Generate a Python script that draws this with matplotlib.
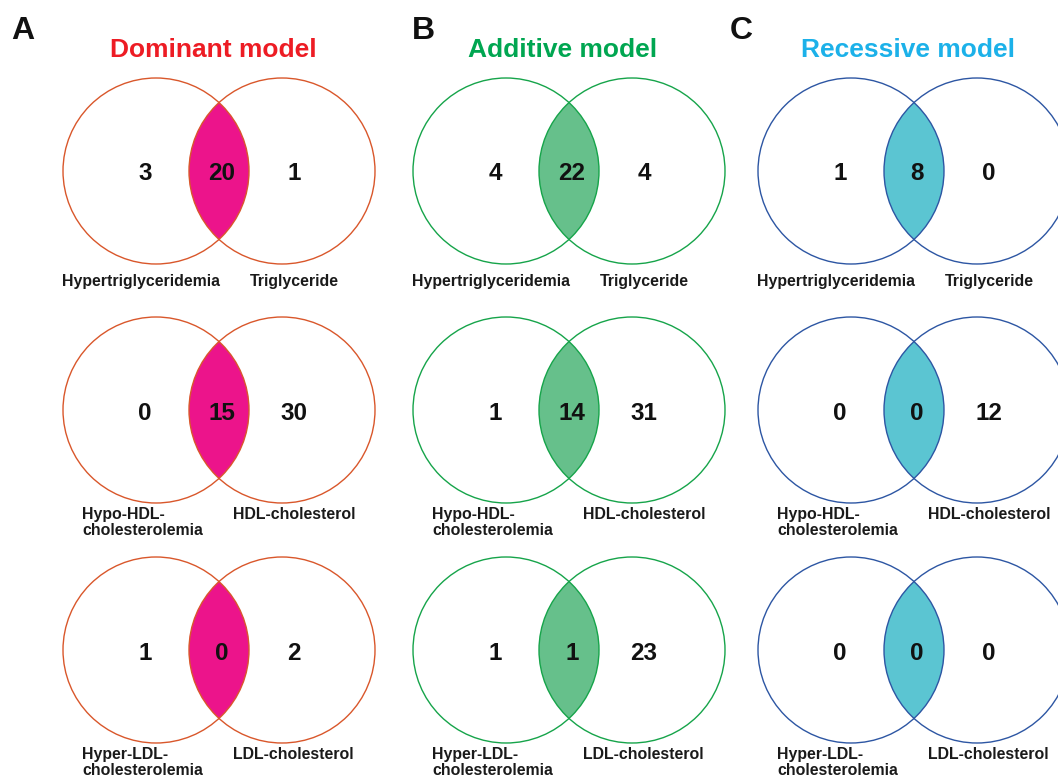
import matplotlib.pyplot as plt
from matplotlib.patches import Circle

plt.rcParams['font.family'] = ['Liberation Sans', 'DejaVu Sans']

# one column per genetic model, one row per trait pair
models = ['Dominant model', 'Additive model', 'Recessive model']
panel_letters = ['A', 'B', 'C']
title_colors = ['#ED1C24', '#00A651', '#1CB1E9']
edge_colors = ['#D9572B', '#16A44A', '#2D56A3']
lens_colors = ['#EC148B', '#66C08B', '#5BC5D2']

left_sets = ['Hypertriglyceridemia', 'Hypo-HDL-\ncholesterolemia', 'Hyper-LDL-\ncholesterolemia']
right_sets = ['Triglyceride', 'HDL-cholesterol', 'LDL-cholesterol']

left_only = [[3, 0, 1], [4, 1, 1], [1, 0, 0]]
shared = [[20, 15, 0], [22, 14, 1], [8, 0, 0]]
right_only = [[1, 30, 2], [4, 31, 23], [0, 12, 0]]

W, H = 1058, 782
fig = plt.figure(figsize=(W / 100, H / 100), dpi=100)
ax = fig.add_axes([0, 0, 1, 1])
ax.set_xlim(0, W)
ax.set_ylim(H, 0)
ax.set_aspect('equal')
ax.axis('off')

col_x = [156, 506, 851]
letter_x = [11, 412, 730]
row_y = [171, 410, 650]
r = 93
gap = 126

for c in range(3):
    cl = col_x[c]
    cr = cl + gap
    mid = (cl + cr) / 2
    ax.text(letter_x[c], 31, panel_letters[c], fontsize=23, fontweight='bold',
            ha='left', va='center', color='#111111')
    ax.text(mid - 6, 50, models[c], fontsize=19, fontweight='bold',
            ha='center', va='center', color=title_colors[c])
    for i in range(3):
        cy = row_y[i]
        left_c = Circle((cl, cy), r, fill=False, ec=edge_colors[c], lw=1.0, zorder=3)
        right_c = Circle((cr, cy), r, fill=False, ec=edge_colors[c], lw=1.0, zorder=3)
        ax.add_patch(left_c)
        ax.add_patch(right_c)
        # overlap region: right disc clipped by the left disc
        lens = Circle((cr, cy), r, fc=lens_colors[c], ec='none', zorder=2)
        ax.add_patch(lens)
        clip = Circle((cl, cy), r, transform=ax.transData)
        lens.set_clip_path(clip)

        num_kw = dict(fontsize=17.5, fontweight='bold', ha='center', va='center',
                      color='#111111', zorder=4)
        ax.text(cl - 11, cy + 3, str(left_only[c][i]), **num_kw)
        ax.text(mid + 3, cy + 3, str(shared[c][i]), **num_kw)
        ax.text(cr + 12, cy + 3, str(right_only[c][i]), **num_kw)

        lab_kw = dict(fontsize=11.4, fontweight='bold', va='top', ha='left',
                      color='#1a1a1a', linespacing=1.1)
        if i == 0:
            ax.text(cl - 94, cy + 103, left_sets[i], **lab_kw)
            ax.text(cr - 32, cy + 103, right_sets[i], **lab_kw)
        else:
            ax.text(cl - 74, cy + 97, left_sets[i], **lab_kw)
            ax.text(cr - 49, cy + 97, right_sets[i], **lab_kw)

fig.savefig('out.png', dpi=100)
